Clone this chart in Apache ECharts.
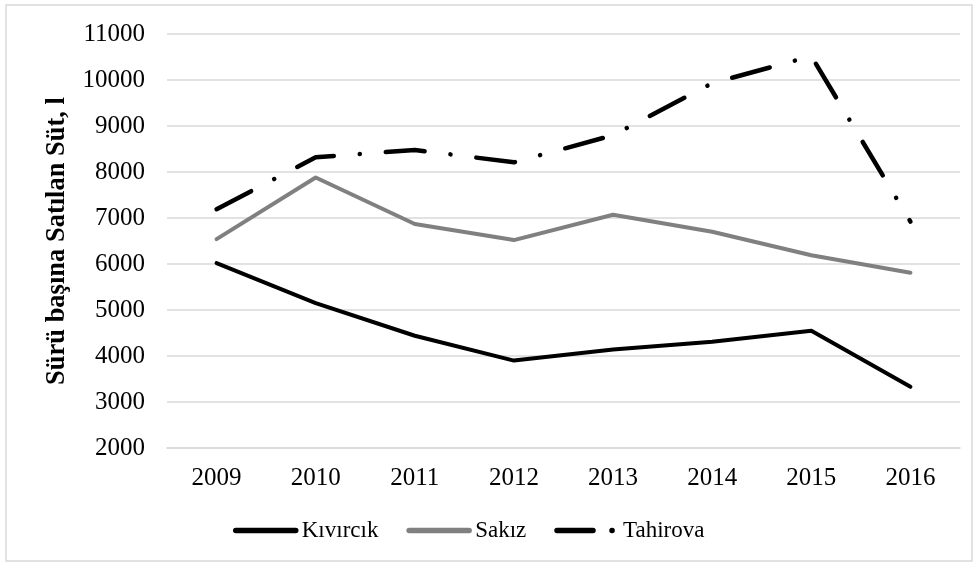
<!DOCTYPE html>
<html>
<head>
<meta charset="utf-8">
<script src="https://cdn.jsdelivr.net/npm/echarts@6/dist/echarts.min.js"></script>
<style>
  html, body { margin: 0; padding: 0; background: #fff; }
  #main { width: 977px; height: 567px; }
</style>
</head>
<body>
<div id="main"></div>
<script>
var years = ['2009', '2010', '2011', '2012', '2013', '2014', '2015', '2016'];
var kivircik = [6020, 5150, 4440, 3900, 4140, 4310, 4550, 3330];
var sakiz = [6540, 7880, 6870, 6520, 7070, 6700, 6190, 5810];
var tahirova = [7190, 8320, 8480, 8210, 8800, 9930, 10520, 6920];

var myChart = echarts.init(document.getElementById('main'));
var serif = '"Liberation Serif", "Times New Roman", serif';

option = {
    backgroundColor: '#fff',
    textStyle: { fontFamily: serif },
    graphic: [{
        type: 'rect',
        shape: { x: 6, y: 5, width: 966, height: 556 },
        style: { fill: 'none', stroke: '#d9d9d9', lineWidth: 1.5 }
    }],
    grid: {
        left: 167,
        right: 17,
        top: 34,
        bottom: 119
    },
    legend: {
        bottom: 20,
        left: 228,
        itemWidth: 60,
        itemHeight: 14,
        itemGap: 28,
        itemStyle: { opacity: 0 },
        lineStyle: { width: 5.5, cap: 'round' },
        textStyle: { fontFamily: serif, fontSize: 23, color: '#000', padding: [0, 0, 0, 1] },
        data: [
            'Kıvırcık',
            'Sakız',
            { name: 'Tahirova', lineStyle: { type: [36, 19, 0.1, 30], width: 5.5, cap: 'round' } }
        ]
    },
    xAxis: {
        type: 'category',
        data: years,
        boundaryGap: true,
        axisLine: { show: true, lineStyle: { color: '#d9d9d9', width: 1.5 } },
        axisTick: { show: false },
        axisLabel: { fontFamily: serif, fontSize: 25, color: '#000', margin: 18 }
    },
    yAxis: {
        type: 'value',
        min: 2000,
        max: 11000,
        interval: 1000,
        name: 'Sürü başına Satılan Süt, l',
        nameLocation: 'middle',
        nameGap: 96,
        nameTextStyle: { fontFamily: serif, fontSize: 26.5, fontWeight: 'bold', color: '#000' },
        axisLine: { show: false },
        axisTick: { show: false },
        axisLabel: {
            fontFamily: serif, fontSize: 25, color: '#000', margin: 22,
            formatter: function (v) { return String(v); }
        },
        splitLine: { lineStyle: { color: '#d9d9d9', width: 1.5 } }
    },
    series: [
        {
            name: 'Kıvırcık',
            type: 'line',
            data: kivircik,
            symbol: 'none',
            color: '#000',
            lineStyle: { color: '#000', width: 4, cap: 'round', join: 'round' }
        },
        {
            name: 'Sakız',
            type: 'line',
            data: sakiz,
            symbol: 'none',
            color: '#808080',
            lineStyle: { color: '#808080', width: 4, cap: 'round', join: 'round' }
        },
        {
            name: 'Tahirova',
            type: 'line',
            data: tahirova,
            symbol: 'none',
            color: '#000',
            lineStyle: { color: '#000', width: 4.5, type: [39, 26, 0.1, 26], cap: 'round', join: 'round' }
        }
    ]
};
myChart.setOption(option);
</script>
</body>
</html>
